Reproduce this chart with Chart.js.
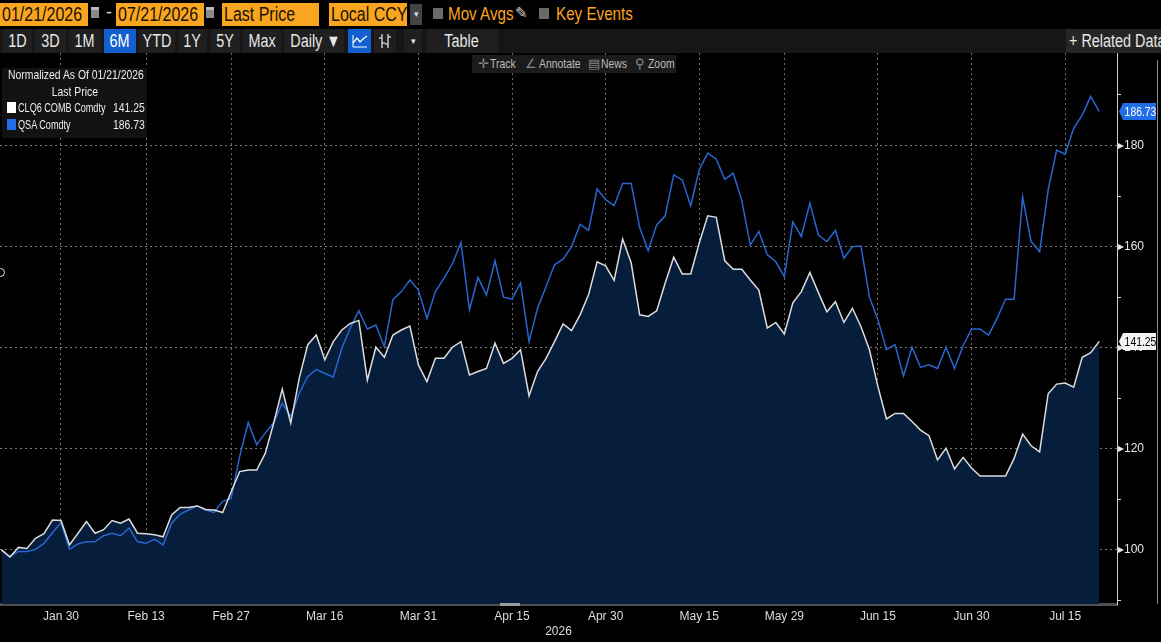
<!DOCTYPE html>
<html>
<head>
<meta charset="utf-8">
<script src="https://cdn.jsdelivr.net/npm/chart.js@4.4.1/dist/chart.umd.min.js"></script>
<style>
  body {
    margin: 0;
    width: 1161px;
    height: 642px;
    background: #000;
    overflow: hidden;
    position: relative;
    font-family: "Liberation Sans", Arial, sans-serif;
  }
  .abs { position: absolute; white-space: nowrap; }
  /* narrow look: squeeze a normal sans horizontally */
  .n { display: inline-block; transform: scaleX(0.8); transform-origin: 0 50%; white-space: nowrap; }
  .nc { display: inline-block; transform: scaleX(0.8); transform-origin: 50% 50%; white-space: nowrap; }
  .nr { display: inline-block; transform: scaleX(0.8); transform-origin: 100% 50%; white-space: nowrap; }
  .ob {
    position: absolute; top: 3px; height: 23px; line-height: 23px;
    background: #f9a51f; color: #1b1203; font-size: 20px; padding-left: 2px; box-sizing: border-box; overflow: hidden;
  }
  .cal { position: absolute; top: 7px; width: 8px; height: 11px; background: #8a8a8a; border-top: 3px solid #bbb; box-sizing: border-box; }
  .chk { position: absolute; top: 8px; width: 10px; height: 11px; background: #6a6a6a; }
  .orange { color: #f9a51f; font-size: 19px; top: 3px; }
  #row2 { position: absolute; left: 0; top: 29px; width: 1161px; height: 24px; background: #161616; }
  .btn { position: absolute; top: 0; height: 24px; line-height: 24px; color: #e6e6e6; font-size: 18px; text-align: center; background: #1f1f1f; white-space: nowrap; }
  .btn.on { background: #1260cf; color: #fff; }
  #chartBox { position: absolute; left: 0; top: 53px; width: 1161px; height: 589px; }
  #legend {
    position: absolute; left: 2px; top: 68px; width: 145px; height: 70px;
    background: #121212; color: #ececec; font-size: 13px;
  }
  #legend > div { position: absolute; white-space: nowrap; line-height: 14px; }
  .sw { display: inline-block; width: 9px; height: 11px; vertical-align: -1px; margin-right: 2px; }
  #tools {
    position: absolute; left: 472px; top: 55px; width: 204px; height: 18px;
    background: #1b1b1b; color: #bdbdbd; font-size: 13px; line-height: 18px;
  }
  #tools > span { position: absolute; top: 0; }
</style>
</head>
<body>

<!-- row 1 -->
<div class="ob" style="left:0;width:88px"><span class="n">01/21/2026</span></div>
<div class="cal" style="left:91px"></div>
<div class="abs" style="left:106px;top:2px;color:#ddd;font-size:18px">-</div>
<div class="ob" style="left:116px;width:88px"><span class="n">07/21/2026</span></div>
<div class="cal" style="left:206px"></div>
<div class="ob" style="left:222px;width:97px"><span class="n">Last Price</span></div>
<div class="ob" style="left:329px;width:78px"><span class="n">Local CCY</span></div>
<div class="abs" style="left:410px;top:4px;width:12px;height:21px;background:#444;color:#ddd;font-size:9px;line-height:21px;text-align:center">&#9662;</div>
<div class="chk" style="left:433px"></div>
<div class="abs orange" style="left:448px"><span class="n">Mov Avgs</span></div>
<div class="abs" style="left:515px;top:4px;color:#cfcfcf;font-size:15px">&#9998;</div>
<div class="chk" style="left:539px"></div>
<div class="abs orange" style="left:556px"><span class="n">Key Events</span></div>

<!-- row 2 -->
<div id="row2">
  <div class="btn" style="left:3px;width:29px"><span class="nc">1D</span></div>
  <div class="btn" style="left:35px;width:31px"><span class="nc">3D</span></div>
  <div class="btn" style="left:69px;width:32px"><span class="nc">1M</span></div>
  <div class="btn on" style="left:104px;width:32px"><span class="nc">6M</span></div>
  <div class="btn" style="left:139px;width:36px"><span class="nc">YTD</span></div>
  <div class="btn" style="left:178px;width:29px"><span class="nc">1Y</span></div>
  <div class="btn" style="left:210px;width:30px"><span class="nc">5Y</span></div>
  <div class="btn" style="left:243px;width:38px"><span class="nc">Max</span></div>
  <div class="btn" style="left:284px;width:60px"><span class="nc">Daily &#9660;</span></div>
  <div class="btn on" style="left:348px;width:23px">
    <svg width="16" height="14" viewBox="0 0 16 14" style="margin-top:5px">
      <polyline points="1,9 5,4 8,8 11,5 15,2" fill="none" stroke="#fff" stroke-width="1.3"/>
      <polyline points="1,1 1,13 15,13" fill="none" stroke="#fff" stroke-width="1"/>
    </svg>
  </div>
  <div class="btn" style="left:374px;width:22px">
    <svg width="12" height="16" viewBox="0 0 12 16" style="margin-top:4px">
      <line x1="3" y1="1" x2="3" y2="15" stroke="#ddd" stroke-width="1.3"/>
      <line x1="9" y1="1" x2="9" y2="15" stroke="#ddd" stroke-width="1.3"/>
      <line x1="0" y1="5" x2="3" y2="5" stroke="#ddd" stroke-width="1.3"/>
      <line x1="9" y1="4" x2="12" y2="4" stroke="#ddd" stroke-width="1.3"/>
      <line x1="6" y1="11" x2="9" y2="11" stroke="#ddd" stroke-width="1.3"/>
      <line x1="3" y1="10" x2="6" y2="10" stroke="#ddd" stroke-width="1.3"/>
    </svg>
  </div>
  <div class="btn" style="left:404px;width:18px;font-size:9px">&#9662;</div>
  <div class="btn" style="left:426px;width:72px"><span class="nc">Table</span></div>
  <div class="btn" style="left:1066px;width:95px;background:#262626;text-align:left;padding-left:3px"><span class="n">+ Related Data</span></div>
</div>

<div id="chartBox"><canvas id="mychart"></canvas></div>

<div id="legend">
  <div style="left:6px;top:0px"><span class="n">Normalized As Of 01/21/2026</span></div>
  <div style="left:0;width:145px;top:17px;text-align:center"><span class="nc">Last Price</span></div>
  <div style="left:5px;top:33px"><span class="sw" style="background:#fff"></span><span class="n" style="transform:scaleX(0.7)">CLQ6 COMB Comdty</span></div>
  <div style="right:2px;top:33px"><span class="nr">141.25</span></div>
  <div style="left:5px;top:50px"><span class="sw" style="background:#1f6ee8"></span><span class="n" style="transform:scaleX(0.7)">QSA Comdty</span></div>
  <div style="right:2px;top:50px"><span class="nr">186.73</span></div>
</div>

<div id="tools">
  <span style="left:6px;color:#888">&#10011;</span><span style="left:18px"><span class="n">Track</span></span>
  <span style="left:53px;color:#888">&#8736;</span><span style="left:67px"><span class="n">Annotate</span></span>
  <span style="left:116px;color:#888">&#9636;</span><span style="left:129px"><span class="n">News</span></span>
  <span style="left:163px;color:#888">&#9906;</span><span style="left:176px"><span class="n">Zoom</span></span>
</div>

<div class="abs" style="left:1157px;top:60px;width:1px;height:544px;background:#8a8a8a"></div>
<div class="abs" style="left:-4px;top:268px;width:7px;height:7px;border:1px solid #ddd;border-radius:50%;background:#000"></div>
<div class="abs" style="left:500px;top:603px;width:20px;height:3px;background:#9a9a9a"></div>

<script>
// trading-day index of each date label on the x axis (0 = 01/21/2026)
const tickIdx = [7, 17, 27, 38, 49, 60, 71, 82, 92, 103, 114, 125];
const tickLabels = ["Jan 30", "Feb 13", "Feb 27", "Mar 16", "Mar 31", "Apr 15",
  "Apr 30", "May 15", "May 29", "Jun 15", "Jun 30", "Jul 15"];
const yTicks = [90, 100, 110, 120, 130, 140, 150, 160, 170, 180, 190];

// normalized to 100 on 01/21/2026, one value per weekday
const clq6 = [
  100, 98.6, 100.5, 100.3, 102.3, 103.2, 105.9, 105.8, 101, 103.3,
  105.6, 103.3, 104, 105.8, 105.3, 106.1, 103.3, 103.2, 103, 102.6,
  106.9, 108.4, 108.4, 108.7, 108, 107.9, 107.4, 111.5, 115.5, 115.8,
  115.8, 119.1, 125.1, 131.8, 125.1, 134, 140.6, 142.5, 137.6, 141.2,
  143.5, 144.8, 145.4, 133.6, 140.1, 138.1, 142.5, 143.5, 144.3, 136.6,
  133.3, 137.9, 137.9, 140.1, 141.2, 134.6, 135.3, 135.9, 140.9, 136.9,
  137.9, 139.6, 130.5, 135.3, 137.9, 141.2, 144.7, 143.4, 146.5, 150.5,
  157, 156.2, 153.3, 161.5, 156.8, 146.5, 146.2, 147.3, 152.8, 157.9,
  154.6, 154.6, 160.7, 166.1, 165.8, 157.2, 155.5, 155.5, 153.4, 151.4,
  143.9, 145, 142.7, 148.9, 151.1, 154.9, 150.9, 147.1, 149.1, 145,
  147.8, 144.2, 139.6, 132.3, 125.9, 127, 127, 125.4, 123.7, 122.6,
  117.8, 120.1, 116, 118.3, 116.2, 114.6, 114.6, 114.6, 114.6, 118.1,
  122.9, 120.6, 119.4, 130.9, 132.8, 133, 132.2, 138.1, 139, 141.25,
];
const qsa = [
  100, 98.7, 99.7, 99.7, 100.1, 101.3, 103.4, 105.4, 100.1, 101.2,
  101.6, 101.6, 102.8, 103.3, 102.8, 104.3, 101.6, 101.3, 102.1, 101,
  105.3, 107.1, 107.9, 108.7, 107.9, 107.4, 109.6, 110.2, 118.5, 125.2,
  120.8, 123.1, 125.2, 129, 126.4, 131, 134.3, 135.7, 134.9, 134.2,
  139.9, 143.9, 147.3, 143.7, 144.5, 140.2, 149.5, 151.1, 153.4, 151.4,
  145.8, 151.1, 153.7, 156.6, 160.8, 147.5, 153.9, 150.4, 157.2, 150,
  149.6, 152.8, 141.2, 147.8, 152.1, 156.4, 157.5, 160, 164.4, 163.2,
  171.4, 169.3, 168.1, 172.5, 172.5, 163.8, 159.2, 164.3, 166.1, 174.2,
  173.2, 168.1, 175.2, 178.5, 177.3, 173.3, 174.5, 169.1, 160.3, 163,
  158.4, 157, 154.1, 164.9, 162, 168.6, 162.3, 161, 163.2, 157.7,
  160, 160.1, 150, 145.5, 139.6, 140.6, 134.4, 140.1, 136.1, 136.6,
  135.9, 140.1, 135.9, 140.4, 143.7, 143.7, 142.5, 145.8, 149.6, 149.6,
  169.8, 161, 159, 171.2, 179.1, 178.3, 183.4, 186, 189.7, 186.73,
];

const FONT = '"Liberation Sans", Arial, sans-serif';
Chart.defaults.font.family = FONT;

// last-value tags on the right axis
const lastTags = {
  id: "lastTags",
  afterDraw(chart) {
    const ctx = chart.ctx;
    const yScale = chart.scales.y;
    const left = chart.chartArea.right + 2;
    chart.data.datasets.forEach((ds) => {
      const v = ds.data[ds.data.length - 1].y;
      const py = yScale.getPixelForValue(v);
      const w = 37, h = 17;
      ctx.save();
      ctx.beginPath();
      ctx.moveTo(left, py);
      ctx.lineTo(left + 4, py - h / 2);
      ctx.lineTo(left + w, py - h / 2);
      ctx.lineTo(left + w, py + h / 2);
      ctx.lineTo(left + 4, py + h / 2);
      ctx.closePath();
      ctx.fillStyle = ds.tagBg;
      ctx.fill();
      ctx.translate(left + 3 + w / 2, py + 1);
      ctx.scale(0.8, 1);
      ctx.fillStyle = ds.tagFg;
      ctx.font = "13px " + FONT;
      ctx.textAlign = "center";
      ctx.textBaseline = "middle";
      ctx.fillText(v.toFixed(2), 0, 0);
      ctx.restore();
    });
  },
};

let myChart;
function create_chart() {
  const chart = document.querySelector("#mychart");
  myChart = new Chart(chart, {
    type: "line",
    data: {
      datasets: [
        {
          label: "CLQ6 COMB Comdty",
          data: clq6.map((v, i) => ({ x: i, y: v })),
          borderColor: "#dcdcdc",
          borderWidth: 1.5,
          backgroundColor: "#061d3b",
          fill: "start",
          pointRadius: 0,
          tension: 0,
          tagBg: "#f2f2f2",
          tagFg: "#000",
        },
        {
          label: "QSA Comdty",
          data: qsa.map((v, i) => ({ x: i, y: v })),
          borderColor: "#2a66d0",
          borderWidth: 1.5,
          fill: false,
          pointRadius: 0,
          tension: 0,
          tagBg: "#1f6ee8",
          tagFg: "#fff",
        },
      ],
    },
    options: {
      responsive: true,
      maintainAspectRatio: false,
      animation: false,
      layout: { padding: 0 },
      plugins: {
        legend: { display: false },
        tooltip: { enabled: false },
        filler: { drawTime: "beforeDatasetsDraw" },
      },
      scales: {
        x: {
          type: "linear",
          min: -0.165,
          max: 131.09,
          afterBuildTicks: (s) => {
            s.ticks = tickIdx.map((v) => ({ value: v }));
          },
          afterFit: (s) => {
            s.height = 38;
            s.paddingLeft = 0;
            s.paddingRight = 0;
          },
          ticks: {
            color: "#dedede",
            font: { size: 12 },
            padding: 5,
            maxRotation: 0,
            autoSkip: false,
            callback: (v) => tickLabels[tickIdx.indexOf(v)],
          },
          grid: { color: "#6c6c6c", lineWidth: 1, drawTicks: false },
          border: { color: "#505050", width: 3, dash: [2, 3] },
          title: {
            display: true,
            text: "2026",
            color: "#dedede",
            font: { size: 12 },
            padding: { top: 0, bottom: 3 },
          },
        },
        y: {
          position: "right",
          min: 89.3,
          max: 198.3,
          afterBuildTicks: (s) => {
            s.ticks = yTicks.map((v) => ({ value: v }));
          },
          afterFit: (s) => {
            s.width = 44;
            s.paddingTop = 0;
            s.paddingBottom = 0;
          },
          ticks: {
            color: "#e6e6e6",
            font: { size: 12 },
            padding: -3,
            callback: (v) => (v % 20 === 0 ? "\u25B8" + v : ""),
          },
          grid: {
            lineWidth: 1,
            tickLength: 4,
            color: (c) => (c.tick && c.tick.value % 20 === 0 ? "#7a7a7a" : "rgba(0,0,0,0)"),
            tickColor: (c) => (c.tick && c.tick.value % 20 === 0 ? "rgba(0,0,0,0)" : "#dcdcdc"),
          },
          border: { color: "#cfcfcf", width: 1, dash: [2, 3] },
        },
      },
    },
    plugins: [lastTags],
  });
}

create_chart();
</script>
</body>
</html>
